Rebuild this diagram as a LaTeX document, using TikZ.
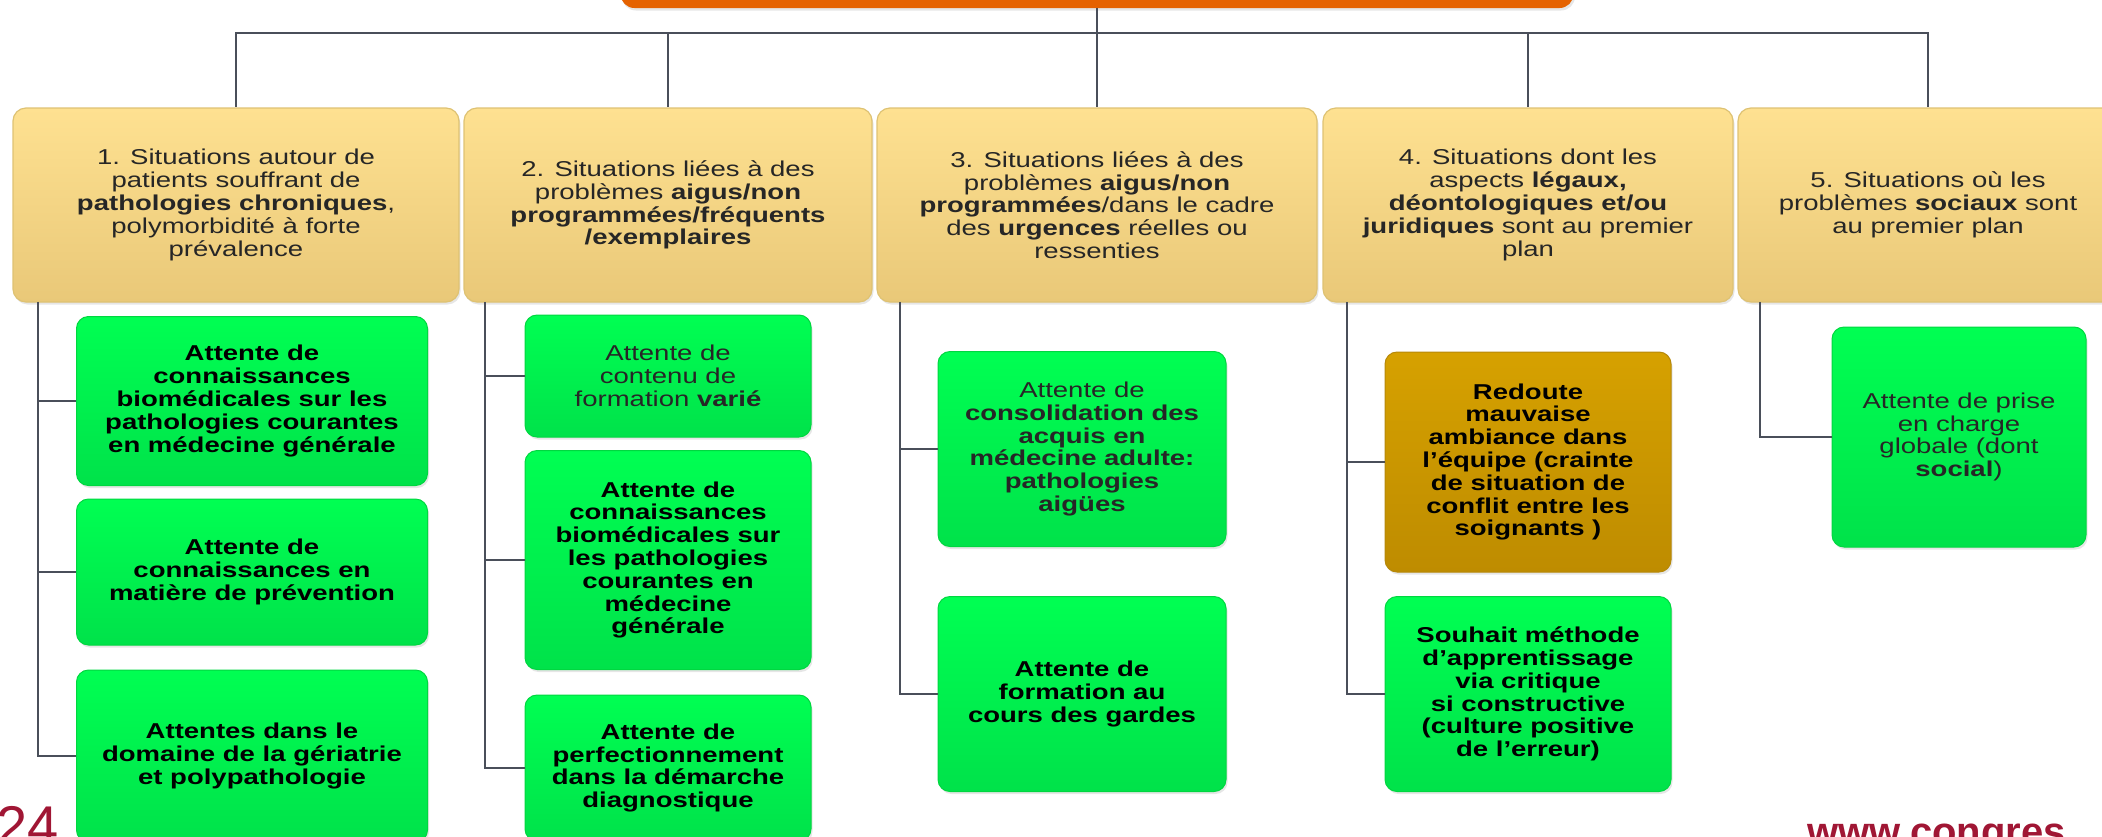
\documentclass[tikz,border=0pt]{standalone}
\usepackage{fontspec}
\setmainfont{Liberation Sans}[FakeStretch=1.28]
\newfontfamily\footfont{Liberation Sans}
\usetikzlibrary{shadows}

\definecolor{bannerOrange}{RGB}{229,98,0}
\definecolor{linkGray}{RGB}{74,79,90}
\definecolor{sitTop}{RGB}{254,225,145}
\definecolor{sitBottom}{RGB}{233,200,120}
\definecolor{sitBorder}{RGB}{222,194,115}
\definecolor{greenTop}{RGB}{0,255,82}
\definecolor{greenBottom}{RGB}{0,226,74}
\definecolor{greenBorder}{RGB}{0,215,64}
\definecolor{goldTop}{RGB}{214,161,0}
\definecolor{goldBottom}{RGB}{190,140,0}
\definecolor{goldBorder}{RGB}{182,136,10}
\definecolor{footRed}{RGB}{160,22,52}

\begin{document}
\begin{tikzpicture}[
		x=1pt, y=1pt,
		every node/.style={align=center, inner sep=0pt, text=black!85, font=\fontsize{21.5}{22.8}\selectfont},
		heavy/.style={text=black, font=\fontsize{21.5}{22.8}\selectfont\bfseries},
		link/.style={draw=linkGray, line width=2.6pt},
		soft shadow/.style={drop shadow={shadow xshift=1.5pt, shadow yshift=-2.5pt, opacity=0.2}},
		banner/.style={fill=bannerOrange, rounded corners=14pt, soft shadow},
		situation/.style={draw=sitBorder, line width=1.2pt, rounded corners=13pt, top color=sitTop, bottom color=sitBottom, minimum height=194pt, soft shadow},
		attente/.style={draw=greenBorder, line width=1pt, rounded corners=12pt, top color=greenTop, bottom color=greenBottom, soft shadow},
		redoute/.style={draw=goldBorder, line width=1pt, rounded corners=12pt, top color=goldTop, bottom color=goldBottom, soft shadow}
		]
		
		\useasboundingbox (0,0) rectangle (2102,-836);
		\clip (0,0) rectangle (2102,-836);
		
		% Top
		\node[banner, minimum width=953pt, minimum height=60pt] (top) at (1097,22) {};
		
		% Situations
		\node[situation, minimum width=446pt] (s1) at (236,-205) {1. Situations autour de\\ patients souffrant de\\ \textbf{pathologies chroniques},\\ polymorbidité à forte\\ prévalence};
		\node[situation, minimum width=408pt] (s2) at (668,-205) {2. Situations liées à des\\ problèmes \textbf{aigus/non}\\ \textbf{programmées/fréquents}\\ \textbf{/exemplaires}};
		\node[situation, minimum width=440pt] (s3) at (1097,-205) {3. Situations liées à des\\ problèmes \textbf{aigus/non}\\ \textbf{programmées}/dans le cadre\\ des \textbf{urgences} réelles ou\\ ressenties};
		\node[situation, minimum width=410pt] (s4) at (1528,-205) {4. Situations dont les\\ aspects \textbf{légaux,}\\ \textbf{déontologiques et/ou}\\ \textbf{juridiques} sont au premier\\ plan};
		\node[situation, minimum width=380pt] (s5) at (1928,-205) {5. Situations où les\\ problèmes \textbf{sociaux} sont\\ au premier plan};
		
		% Attentes
		\node[attente, heavy, minimum width=351pt, minimum height=169pt] (g1a) at (252,-401) {Attente de\\ connaissances\\ biomédicales sur les\\ pathologies courantes\\ en médecine générale};
		\node[attente, heavy, minimum width=351pt, minimum height=146pt] (g1b) at (252,-572) {Attente de\\ connaissances en\\ matière de prévention};
		\node[attente, heavy, minimum width=351pt, minimum height=172pt] (g1c) at (252,-756) {Attentes dans le\\ domaine de la gériatrie\\ et polypathologie};
		
		\node[attente, minimum width=286pt, minimum height=122pt] (g2a) at (668,-376) {Attente de\\ contenu de\\ formation \textbf{varié}};
		\node[attente, heavy, minimum width=286pt, minimum height=219pt] (g2b) at (668,-560) {Attente de\\ connaissances\\ biomédicales sur\\ les pathologies\\ courantes en\\ médecine\\ générale};
		\node[attente, heavy, minimum width=286pt, minimum height=146pt] (g2c) at (668,-768) {Attente de\\ perfectionnement\\ dans la démarche\\ diagnostique};
		
		\node[attente, minimum width=288pt, minimum height=195pt] (g3a) at (1082,-449) {Attente de\\ \textbf{consolidation des}\\ \textbf{acquis en}\\ \textbf{médecine adulte:}\\ \textbf{pathologies}\\ \textbf{aigües}};
		\node[attente, heavy, minimum width=288pt, minimum height=195pt] (g3b) at (1082,-694) {Attente de\\ formation au\\ cours des gardes};
		
		\node[redoute, heavy, minimum width=286pt, minimum height=220pt] (g4a) at (1528,-462) {Redoute\\ mauvaise\\ ambiance dans\\ l'équipe (crainte\\ de situation de\\ conflit entre les\\ soignants )};
		\node[attente, heavy, minimum width=286pt, minimum height=195pt] (g4b) at (1528,-694) {Souhait méthode\\ d'apprentissage\\ via critique\\ si constructive\\ (culture positive\\ de l'erreur)};
		
		\node[attente, minimum width=254pt, minimum height=220pt] (g5) at (1959,-437) {Attente de prise\\ en charge\\ globale (dont\\ \textbf{social})};
		
		% Slide footer, cut off
		\node[anchor=north west, font=\footfont\fontsize{56}{56}\selectfont, text=footRed] (year) at (-4,-806) {24};
		\node[anchor=north west, font=\footfont\bfseries\fontsize{40}{40}\selectfont, text=footRed] (site) at (1807,-824) {www.congres};
		
		% Top bus
		\coordinate (bus) at (0,-33);
		\foreach \i in {1,...,5}
			\draw[link] (top.south) |- (bus -| s\i.north) -- (s\i.north);
		
		% Trees
		\coordinate (t1) at (38,-302);
		\coordinate (t2) at (485,-302);
		\coordinate (t3) at (900,-302);
		\coordinate (t4) at (1347,-302);
		\coordinate (t5) at (1760,-302);
		\foreach \g in {g1a,g1b,g1c}
			\draw[link] (t1) |- (\g.west);
		\foreach \g in {g2a,g2b,g2c}
			\draw[link] (t2) |- (\g.west);
		\foreach \g in {g3a,g3b}
			\draw[link] (t3) |- (\g.west);
		\foreach \g in {g4a,g4b}
			\draw[link] (t4) |- (\g.west);
		\draw[link] (t5) |- (g5.west);
		
	\end{tikzpicture}
\end{document}
